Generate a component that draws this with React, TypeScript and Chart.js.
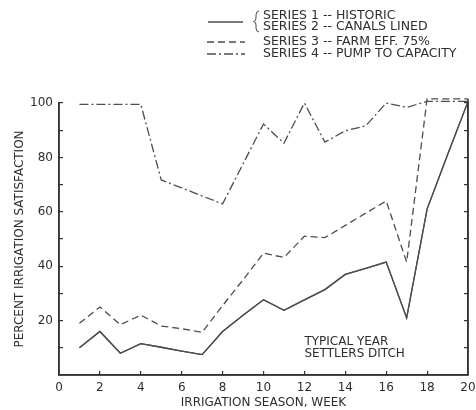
import React, { useEffect, useRef } from 'react';
import { Chart, registerables } from 'chart.js';

Chart.register(...registerables);

// ---- data ----
const weeks = [1, 2, 3, 4, 5, 6, 7, 8, 9, 10, 11, 12, 13, 14, 15, 16, 17, 18, 19, 20];
const historic = [10, 16, 8, 11.5, 10.2, 8.8, 7.5, 16, 22, 27.7, 23.8, 27.6, 31.4, 37, 39.2, 41.5, 21, 61, 81, 100.5];
const canalsLined = [10, 16, 8, 11.5, 10.2, 8.8, 7.5, 16, 22, 27.7, 23.8, 27.6, 31.4, 37, 39.2, 41.5, 21, 61, 81, 100.5];
const farmEff75 = [19, 25, 18.5, 22, 18, 17, 15.7, 25.5, 35, 44.8, 43.2, 51, 50.5, 55, 59.5, 64, 41.5, 101.5, 101.5, 101.5];
const pumpToCapacity = [99.5, 99.5, 99.5, 99.5, 71.7, 68.8, 65.8, 62.9, 77.6, 92.3, 85.2, 100, 85.6, 89.8, 91.6, 100, 98.4, 100.6, 100.6, 100.6];

const xTicks = [0, 2, 4, 6, 8, 10, 12, 14, 16, 18, 20];
const yTicks = [10, 20, 30, 40, 50, 60, 70, 80, 90, 100];
const yLabelStep = 20;

const legendLabels = [
  'SERIES 1 -- HISTORIC',
  'SERIES 2 -- CANALS LINED',
  'SERIES 3 -- FARM EFF. 75%',
  'SERIES 4 -- PUMP TO CAPACITY',
];
const noteLines = ['TYPICAL YEAR', 'SETTLERS DITCH'];
const noteX = 12;
const noteY = [12.3, 7.8];
const xTitle = 'IRRIGATION SEASON, WEEK';
const yTitle = 'PERCENT IRRIGATION SATISFACTION';

// ---- styles ----
const TEXT = '#2e2e2e';
const LINE = '#4d4d4d';
const AXIS = '#333333';
const FONT = { family: 'DejaVu Sans', size: 12 };
const LEGEND_FONT_SIZE = 12.5;
const DASH3 = [7, 4];
const DASH4 = [9, 3, 2, 3];

const inwardGrid = { display: true, drawOnChartArea: false, drawTicks: true, tickLength: -4, color: AXIS, lineWidth: 1.2 };
const axisBorder = { display: true, color: AXIS, width: 1.5 };

const notePlugin = {
  id: 'notes',
  afterDraw(chart: any) {
    const ctx = chart.ctx;
    const xs = chart.scales.x;
    const ys = chart.scales.y;
    const x0 = xs.getPixelForValue(0);
    const x1 = xs.getPixelForValue(20);
    const y0 = ys.getPixelForValue(0);
    const y1 = ys.getPixelForValue(100);
    ctx.save();
    // text
    ctx.font = `${FONT.size}px "${FONT.family}"`;
    ctx.fillStyle = TEXT;
    ctx.textAlign = 'left';
    ctx.textBaseline = 'middle';
    noteLines.forEach((t, i) => {
      ctx.fillText(t, xs.getPixelForValue(noteX), ys.getPixelForValue(noteY[i]));
    });
    ctx.font = `${LEGEND_FONT_SIZE}px "${FONT.family}"`;
    const textX = 263;
    const rowY = [16, 27, 42, 54];
    legendLabels.forEach((t, i) => ctx.fillText(t, textX, rowY[i]));

    // frame (backup to the scale borders)
    ctx.strokeStyle = AXIS;
    ctx.lineWidth = 1.5;
    ctx.setLineDash([]);
    ctx.beginPath();
    ctx.moveTo(x0, y1);
    ctx.lineTo(x0, y0);
    ctx.lineTo(x1, y0);
    ctx.lineTo(x1, y1 - 4);
    ctx.stroke();

    // legend samples
    ctx.strokeStyle = LINE;
    ctx.lineWidth = 1.3;
    ctx.beginPath();
    ctx.moveTo(208, 22);
    ctx.lineTo(243, 22);
    ctx.stroke();
    ctx.beginPath();
    ctx.setLineDash(DASH3);
    ctx.moveTo(207, 42);
    ctx.lineTo(245, 42);
    ctx.stroke();
    ctx.beginPath();
    ctx.setLineDash(DASH4);
    ctx.moveTo(207, 54);
    ctx.lineTo(245, 54);
    ctx.stroke();
    ctx.setLineDash([]);
    ctx.lineWidth = 1;
    ctx.beginPath();
    ctx.moveTo(259, 11);
    ctx.quadraticCurveTo(256, 11, 256, 15);
    ctx.lineTo(256, 18);
    ctx.quadraticCurveTo(256, 21.5, 253.5, 21.5);
    ctx.quadraticCurveTo(256, 21.5, 256, 25);
    ctx.lineTo(256, 28);
    ctx.quadraticCurveTo(256, 32, 259, 32);
    ctx.stroke();
    ctx.restore();
  },
};

export default function App() {
  const ref = useRef<HTMLCanvasElement>(null);
  useEffect(() => {
    const canvas = ref.current as HTMLCanvasElement;
    const mk = (vals: number[]) => weeks.map((w, i) => ({ x: w, y: vals[i] }));
    const base = { borderColor: LINE, borderWidth: 1.3, pointRadius: 0, tension: 0, fill: false };
    const chart = new Chart(canvas, {
      type: 'line',
      data: {
        datasets: [
          { ...base, label: legendLabels[0], data: mk(historic), borderDash: [] },
          { ...base, label: legendLabels[1], data: mk(canalsLined), borderDash: [] },
          { ...base, label: legendLabels[2], data: mk(farmEff75), borderDash: DASH3 },
          { ...base, label: legendLabels[3], data: mk(pumpToCapacity), borderDash: DASH4 },
        ],
      } as any,
      options: {
        animation: false,
        responsive: false,
        clip: false,
        layout: { padding: { top: 103, right: 0, left: 0, bottom: 0 } },
        plugins: { legend: { display: false }, tooltip: { enabled: false } },
        scales: {
          x: {
            type: 'linear',
            min: 0,
            max: 20,
            afterBuildTicks: (s: any) => { s.ticks = xTicks.map((v) => ({ value: v })); },
            afterFit: (s: any) => { s.height = 35; s.paddingLeft = 0; s.paddingRight = 0; },
            grid: inwardGrid,
            border: axisBorder,
            ticks: { padding: 10, color: TEXT, font: FONT, maxRotation: 0, autoSkip: false },
            title: { display: true, text: xTitle, color: TEXT, font: FONT, padding: { top: 0, bottom: 0 } },
          },
          y: {
            type: 'linear',
            position: 'left',
            min: 0,
            max: 100,
            afterBuildTicks: (s: any) => { s.ticks = yTicks.map((v) => ({ value: v })); },
            afterFit: (s: any) => { s.width = 59; },
            grid: inwardGrid,
            border: axisBorder,
            ticks: {
              padding: 10, color: TEXT, font: FONT, autoSkip: false,
              callback: (v: any) => (v % yLabelStep === 0 ? String(v) : ''),
            },
            title: { display: true, text: yTitle, color: TEXT, font: FONT, padding: { top: 13, bottom: 0 } },
          },
          y2: {
            type: 'linear',
            position: 'right',
            min: 0,
            max: 100,
            afterBuildTicks: (s: any) => { s.ticks = yTicks.map((v) => ({ value: v })); },
            afterFit: (s: any) => { s.width = 8; },
            grid: inwardGrid,
            border: axisBorder,
            ticks: { display: false },
            title: { display: false },
          },
        },
      } as any,
      plugins: [notePlugin],
    });
    return () => chart.destroy();
  }, []);
  return (
    <div style={{ position: 'absolute', left: 0, top: 0, width: 476, height: 410, background: '#fff' }}>
      <canvas ref={ref} width={476} height={410} style={{ display: 'block' }} />
    </div>
  );
}
